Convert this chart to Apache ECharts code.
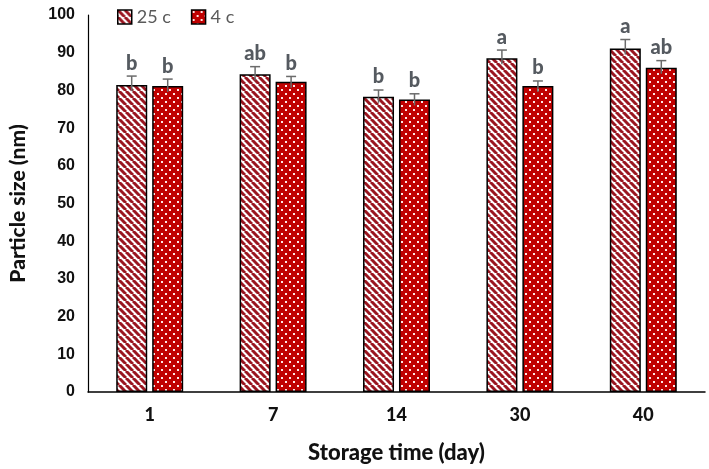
<!DOCTYPE html>
<html>
<head>
<meta charset="utf-8">
<script src="https://cdn.jsdelivr.net/npm/echarts@6/dist/echarts.min.js"></script>
<style>
  html, body { margin: 0; padding: 0; background: #fff; }
  #chart { width: 709px; height: 469px; }
</style>
</head>
<body>
<div id="chart"></div>
<script>
const days = ['1', '7', '14', '30', '40']
const warmValues = [81.4, 84.3, 78.3, 88.5, 91.1]
const warmErrors = [2.4, 2.0, 1.8, 2.2, 2.4]
const warmLetters = ['b', 'ab', 'b', 'a', 'a']
const coldValues = [81.2, 82.3, 77.6, 81.2, 86.0]
const coldErrors = [1.8, 1.4, 1.5, 1.3, 1.9]
const coldLetters = ['b', 'b', 'b', 'b', 'ab']
const yTicks = [0, 10, 20, 30, 40, 50, 60, 70, 80, 90, 100]

// hatch patterns
function stripePattern() {
  const c = document.createElement('canvas')
  c.width = 7; c.height = 7
  const ctx = c.getContext('2d')
  ctx.fillStyle = '#fff'
  ctx.fillRect(0, 0, 7, 7)
  ctx.strokeStyle = '#9a1620'
  ctx.lineWidth = 3
  for (let k = -7; k <= 14; k += 7) {
    ctx.beginPath()
    ctx.moveTo(k, 0)
    ctx.lineTo(k + 7, 7)
    ctx.stroke()
  }
  return c
}
function dotPattern() {
  const c = document.createElement('canvas')
  c.width = 8; c.height = 8
  const ctx = c.getContext('2d')
  ctx.fillStyle = '#c00000'
  ctx.fillRect(0, 0, 8, 8)
  ctx.fillStyle = '#ffe6e6'
  ctx.fillRect(1, 1, 2, 2)
  ctx.fillRect(5, 5, 2, 2)
  return c
}

const warmFill = { image: stripePattern(), repeat: 'repeat' }
const coldFill = { image: dotPattern(), repeat: 'repeat' }

const chart = echarts.init(document.getElementById('chart'))

const barOffset = 18

function errorSeries(values, errors, letters, offset) {
  return {
    type: 'custom',
    silent: true,
    z: 5,
    data: values.map((v, i) => [i, v, errors[i]]),
    renderItem: (params, api) => {
      const i = api.value(0)
      const v = api.value(1)
      const e = api.value(2)
      const top = api.coord([i, v + e])
      const mid = api.coord([i, v])
      const x = top[0] + offset
      return {
        type: 'group',
        children: [
          { type: 'line', shape: { x1: x, y1: top[1], x2: x, y2: mid[1] + 6 },
            style: { stroke: '#6b6b6b', lineWidth: 1.5 } },
          { type: 'line', shape: { x1: x - 5, y1: top[1], x2: x + 5, y2: top[1] },
            style: { stroke: '#6b6b6b', lineWidth: 1.5 } },
          { type: 'text', x: x, y: top[1] - 3,
            style: { text: letters[params.dataIndex], fill: '#555a60', font: '900 20px Lato',
                     align: 'center', verticalAlign: 'bottom' } }
        ]
      }
    }
  }
}

const option = {
  animation: false,
  grid: { left: 85, right: 4, top: 15, bottom: 77, containLabel: false },
  legend: {
    left: 112, top: 3,
    itemWidth: 14, itemHeight: 14, itemGap: 20,
    textStyle: { color: '#5a5a5a', fontSize: 18, fontFamily: 'Lato' },
    data: [
      { name: '25 c', icon: 'rect', itemStyle: { color: warmFill, borderColor: '#000', borderWidth: 1.5 } },
      { name: '4 c', icon: 'rect', itemStyle: { color: coldFill, borderColor: '#000', borderWidth: 1.5 } }
    ]
  },
  xAxis: {
    type: 'category',
    data: days,
    name: 'Storage time (day)',
    nameLocation: 'middle',
    nameGap: 50,
    nameTextStyle: { fontSize: 22, fontWeight: 900, color: '#111', fontFamily: 'Lato' },
    axisLine: { lineStyle: { color: '#000', width: 1.5 } },
    axisTick: { show: false },
    axisLabel: { fontSize: 18, fontWeight: 900, color: '#111', fontFamily: 'Lato', margin: 14 }
  },
  yAxis: {
    type: 'value',
    min: yTicks[0],
    max: yTicks[yTicks.length - 1],
    interval: yTicks[1] - yTicks[0],
    name: 'Particle size (nm)',
    nameLocation: 'middle',
    nameGap: 59,
    nameTextStyle: { fontSize: 21, fontWeight: 900, color: '#111', fontFamily: 'Lato' },
    axisLine: { show: true, lineStyle: { color: '#000', width: 1.2 } },
    axisTick: { show: false },
    splitLine: { show: false },
    axisLabel: { fontSize: 16, fontWeight: 'bold', color: '#111', fontFamily: 'Liberation Sans', margin: 13 }
  },
  series: [
    {
      name: '25 c', type: 'bar', data: warmValues, barWidth: 31, barGap: '16%',
      itemStyle: { color: warmFill, borderColor: '#000', borderWidth: 1.5 }
    },
    {
      name: '4 c', type: 'bar', data: coldValues, barWidth: 31,
      itemStyle: { color: coldFill, borderColor: '#000', borderWidth: 1.5 }
    },
    errorSeries(warmValues, warmErrors, warmLetters, -barOffset),
    errorSeries(coldValues, coldErrors, coldLetters, barOffset)
  ]
}

chart.setOption(option)
</script>
</body>
</html>
